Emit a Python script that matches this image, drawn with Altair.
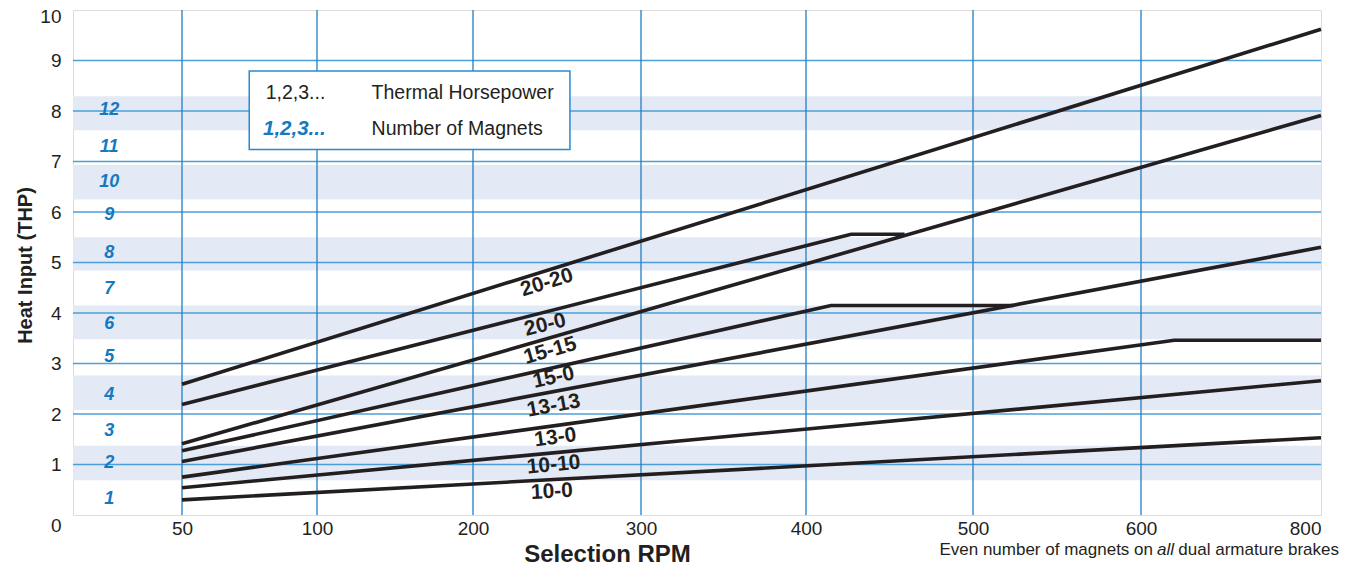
import altair as alt
import pandas as pd

# ---- axes ----
x_ticks = [50, 100, 200, 300, 400, 500, 600, 800]
y_ticks = [0, 1, 2, 3, 4, 5, 6, 7, 8, 9, 10]
x_domain = [0, 50, 100, 200, 300, 400, 500, 600, 800]
x_range = [0, 109, 244, 400, 568, 733, 900, 1068, 1248]

# ---- curves (Selection RPM -> Thermal Horsepower) ----
rpm_20_20 = [50, 800]
thp_20_20 = [2.59, 9.62]
rpm_20_0 = [50, 427, 459]
thp_20_0 = [2.19, 5.56, 5.56]
rpm_15_15 = [50, 800]
thp_15_15 = [1.41, 7.91]
rpm_15_0 = [50, 415, 524]
thp_15_0 = [1.27, 4.15, 4.15]
rpm_13_13 = [50, 800]
thp_13_13 = [1.06, 5.30]
rpm_13_0 = [50, 637, 800]
thp_13_0 = [0.75, 3.46, 3.46]
rpm_10_10 = [50, 800]
thp_10_10 = [0.54, 2.66]
rpm_10_0 = [50, 800]
thp_10_0 = [0.30, 1.53]

# ---- curve labels ----
label_text = ["20-20", "20-0", "15-15", "15-0", "13-13", "13-0", "10-10", "10-0"]
label_rpm = [244, 243, 246, 248, 248, 249, 248, 247]
label_thp = [4.60, 3.76, 3.25, 2.72, 2.16, 1.53, 0.99, 0.46]
label_angle = [342.7, 345.7, 344.0, 347.4, 349.5, 352.2, 354.6, 356.9]

# ---- number of magnets ----
magnet_num = ["1", "2", "3", "4", "5", "6", "7", "8", "9", "10", "11", "12"]
magnet_thp = [0.31, 1.03, 1.67, 2.38, 3.12, 3.79, 4.48, 5.18, 5.95, 6.59, 7.29, 8.02]
magnet_rpm = 16.6

# ---- shaded bands (even magnet counts) ----
band_lo = [0.69, 2.08, 3.48, 4.84, 6.25, 7.62]
band_hi = [1.37, 2.76, 4.15, 5.50, 6.93, 8.29]

BLACK = "#231f20"
BLUE = "#1479c0"
GRID_H = "#4c9fd8"
GRID_V = "#1f80c4"
BAND = "#e3e9f5"
FONT = "Liberation Sans"

curves = [
    ("20-20", rpm_20_20, thp_20_20), ("20-0", rpm_20_0, thp_20_0),
    ("15-15", rpm_15_15, thp_15_15), ("15-0", rpm_15_0, thp_15_0),
    ("13-13", rpm_13_13, thp_13_13), ("13-0", rpm_13_0, thp_13_0),
    ("10-10", rpm_10_10, thp_10_10), ("10-0", rpm_10_0, thp_10_0),
]
rows = []
for name, xs, ys in curves:
    for i, (a, b) in enumerate(zip(xs, ys)):
        rows.append({"curve": name, "rpm": a, "thp": b, "i": i})
df_lines = pd.DataFrame(rows)

df_labels = pd.DataFrame({"text": label_text, "rpm": label_rpm, "thp": label_thp, "angle": label_angle})
df_mag = pd.DataFrame({"num": magnet_num, "thp": magnet_thp, "rpm": [magnet_rpm] * len(magnet_num)})
df_band = pd.DataFrame({"lo": band_lo, "hi": band_hi, "x0": [0] * len(band_lo), "x1": [800] * len(band_lo)})
df_hgrid = pd.DataFrame({"v": y_ticks[1:-1]})
df_vgrid = pd.DataFrame({"v": x_ticks[:-1]})

xscale = alt.Scale(domain=x_domain, range=x_range, zero=False, nice=False)
yscale = alt.Scale(domain=[0, 10], nice=False, zero=False)

x_axis = alt.Axis(
    values=x_ticks, grid=False, domain=False, ticks=False, tickSize=0,
    labelFont=FONT, labelFontSize=19, labelColor=BLACK, labelPadding=4,
    title="Selection RPM", titleFont=FONT, titleFontSize=24, titleFontWeight="bold",
    titleColor=BLACK, titleX=534, titleY=46, titleBaseline="alphabetic", titleAlign="center",
)
y_axis = alt.Axis(
    values=y_ticks, grid=False, domain=False, ticks=False, tickSize=0,
    labelFont=FONT, labelFontSize=19, labelColor=BLACK, labelPadding=12,
    labelOffset={"condition": [{"test": "datum.value == 0", "value": 10},
                               {"test": "datum.value == 10", "value": 6}], "value": 0},
    title="Heat Input (THP)", titleFont=FONT, titleFontSize=20, titleFontWeight="bold",
    titleColor=BLACK, titleX=-42, titleY=255, titleAngle=270, titleBaseline="alphabetic",
    titleAlign="center",
)

bands = alt.Chart(df_band).mark_rect(color=BAND).encode(
    x=alt.X("x0:Q", scale=xscale, axis=x_axis), x2="x1:Q",
    y=alt.Y("lo:Q", scale=yscale, axis=y_axis), y2="hi:Q",
)
hgrid = alt.Chart(df_hgrid).mark_rule(color=GRID_H, strokeWidth=1.6).encode(
    y=alt.Y("v:Q", scale=yscale)
)
vgrid = alt.Chart(df_vgrid).mark_rule(color=GRID_V, strokeWidth=1.3).encode(
    x=alt.X("v:Q", scale=xscale)
)
lines = alt.Chart(df_lines).mark_line(color=BLACK, strokeWidth=3.6).encode(
    x=alt.X("rpm:Q", scale=xscale), y=alt.Y("thp:Q", scale=yscale),
    detail="curve:N", order="i:Q",
)
labels = alt.Chart(df_labels).mark_text(
    font=FONT, fontSize=21, fontWeight="bold", color=BLACK, align="center", baseline="middle"
).encode(
    x=alt.X("rpm:Q", scale=xscale), y=alt.Y("thp:Q", scale=yscale),
    text="text:N", angle=alt.Angle("angle:Q", scale=None),
)
mags = alt.Chart(df_mag).mark_text(
    font=FONT, fontSize=18, fontWeight="bold", fontStyle="italic", color=BLUE,
    align="center", baseline="middle"
).encode(
    x=alt.X("rpm:Q", scale=xscale), y=alt.Y("thp:Q", scale=yscale), text="num:N",
)

# legend box
df_box = pd.DataFrame({"x0": [74.9], "x1": [257.7], "y0": [7.24], "y1": [8.79]})
box = alt.Chart(df_box).mark_rect(fill="white", stroke="#2a8ad0", strokeWidth=1.5).encode(
    x=alt.X("x0:Q", scale=xscale), x2="x1:Q", y=alt.Y("y0:Q", scale=yscale), y2="y1:Q",
)
df_leg = pd.DataFrame({
    "rpm": [81, 135, 80, 135],
    "thp": [8.35, 8.35, 7.65, 7.65],
    "text": ["1,2,3...", "Thermal Horsepower", "1,2,3...", "Number of Magnets"],
    "kind": ["a", "b", "c", "b"],
})
leg_plain = alt.Chart(df_leg).transform_filter("datum.kind != 'c'").mark_text(
    font=FONT, fontSize=19.5, color=BLACK, align="left", baseline="middle"
).encode(x=alt.X("rpm:Q", scale=xscale), y=alt.Y("thp:Q", scale=yscale), text="text:N")
leg_blue = alt.Chart(df_leg).transform_filter("datum.kind == 'c'").mark_text(
    font=FONT, fontSize=20.5, fontWeight="bold", fontStyle="italic", color=BLUE,
    align="left", baseline="middle"
).encode(x=alt.X("rpm:Q", scale=xscale), y=alt.Y("thp:Q", scale=yscale), text="text:N")

# footnote
df_note = pd.DataFrame({"rpm": [800], "thp": [-0.69]})
note_base = alt.Chart(df_note)
note1 = note_base.mark_text(font=FONT, fontSize=17, color=BLACK, align="right",
                            baseline="middle", dx=18, text="dual armature brakes").encode(
    x=alt.X("rpm:Q", scale=xscale), y=alt.Y("thp:Q", scale=yscale))
note2 = note_base.mark_text(font=FONT, fontSize=17, fontStyle="italic", color=BLACK,
                            align="right", baseline="middle", dx=-147, text="all").encode(
    x=alt.X("rpm:Q", scale=xscale), y=alt.Y("thp:Q", scale=yscale))
note3 = note_base.mark_text(font=FONT, fontSize=17, color=BLACK, align="right",
                            baseline="middle", dx=-168, text="Even number of magnets on").encode(
    x=alt.X("rpm:Q", scale=xscale), y=alt.Y("thp:Q", scale=yscale))

chart = alt.layer(
    bands, hgrid, vgrid, lines, labels, mags, box, leg_plain, leg_blue, note1, note2, note3
).properties(
    width=1248, height=505,
    autosize=alt.AutoSizeParams(type="none"),
    padding={"left": 65, "top": 2, "right": 22, "bottom": 51},
).configure_view(
    stroke="#2a8ad0", strokeWidth=2
).configure(background="white")

chart.save("out.html", embed_options={"renderer": "svg", "actions": False})
